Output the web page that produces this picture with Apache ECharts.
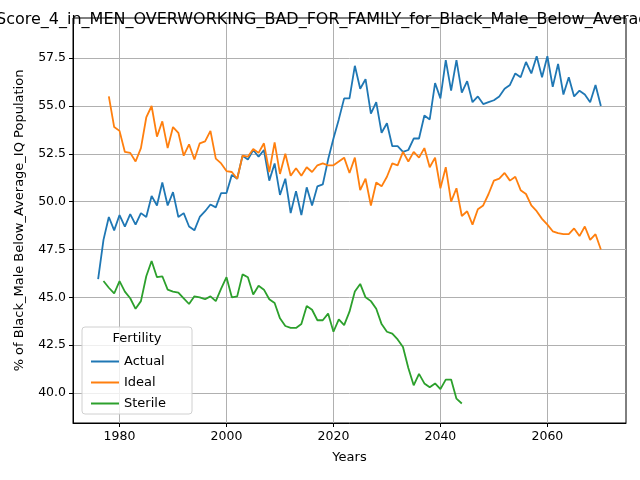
<!DOCTYPE html>
<html>
<head>
<meta charset="utf-8">
<script src="https://cdn.jsdelivr.net/npm/echarts@6/dist/echarts.min.js"></script>
<style>html,body{margin:0;padding:0;background:#fff}#c{width:640px;height:480px}</style>
</head>
<body>
<div id="c"></div>
<script>
// Values, one per year
const actualStart = 1976;
const actual = [45.95, 48.0, 49.2, 48.5, 49.3, 48.7, 49.35, 48.8, 49.4, 49.2,
  50.3, 49.8, 51.0, 49.8, 50.5, 49.2, 49.4, 48.7, 48.5, 49.2,
  49.5, 49.85, 49.7, 50.45, 50.45, 51.4, 51.2, 52.4, 52.2, 52.7,
  52.35, 52.7, 51.1, 52.0, 50.35, 51.2, 49.4, 50.55, 49.3, 50.75,
  49.8, 50.8, 50.9, 52.2, 53.3, 54.3, 55.4, 55.4, 57.1, 55.9,
  56.4, 54.6, 55.2, 53.6, 54.1, 52.9, 52.9, 52.6, 52.7, 53.3,
  53.3, 54.5, 54.3, 56.2, 55.4, 57.4, 55.8, 57.4, 55.7, 56.3,
  55.2, 55.5, 55.1, 55.2, 55.3, 55.5, 55.9, 56.1, 56.7, 56.5,
  57.3, 56.7, 57.6, 56.5, 57.6, 56.0, 57.2, 55.6, 56.5, 55.5,
  55.8, 55.6, 55.2, 56.1, 55.0];
const idealStart = 1978;
const ideal = [55.5, 53.9, 53.7, 52.6, 52.55, 52.1, 52.8, 54.4, 55.0, 53.4,
  54.2, 52.8, 53.9, 53.6, 52.4, 53.0, 52.2, 53.05, 53.15, 53.7,
  52.25, 52.0, 51.6, 51.55, 51.2, 52.4, 52.35, 52.75, 52.55, 53.05,
  51.55, 53.1, 51.45, 52.5, 51.35, 51.75, 51.35, 51.8, 51.55, 51.9,
  52.0, 51.9, 51.9, 52.1, 52.3, 51.5, 52.3, 50.6, 51.2, 49.8,
  51.0, 50.8, 51.3, 52.0, 51.9, 52.6, 52.1, 52.6, 52.3, 52.8,
  51.8, 52.3, 50.7, 51.8, 50.0, 50.7, 49.25, 49.5, 48.8, 49.6,
  49.8, 50.4, 51.1, 51.2, 51.5, 51.1, 51.3, 50.6, 50.4, 49.8,
  49.5, 49.1, 48.8, 48.45, 48.35, 48.3, 48.3, 48.6, 48.2, 48.7,
  48.0, 48.3, 47.5];
const sterileStart = 1977;
const sterile = [45.85, 45.5, 45.2, 45.85, 45.3, 44.95, 44.4, 44.8, 46.1, 46.9,
  46.05, 46.1, 45.4, 45.3, 45.25, 44.95, 44.65, 45.05, 45.0, 44.9,
  45.05, 44.8, 45.45, 46.05, 45.0, 45.05, 46.2, 46.05, 45.15, 45.6,
  45.4, 44.9, 44.7, 43.9, 43.5, 43.4, 43.4, 43.6, 44.55, 44.35,
  43.8, 43.8, 44.15, 43.2, 43.85, 43.55, 44.25, 45.3, 45.7, 45.0,
  44.8, 44.4, 43.6, 43.2, 43.1, 42.8, 42.4, 41.3, 40.4, 41.0,
  40.5, 40.3, 40.5, 40.2, 40.7, 40.7, 39.7, 39.45];
const xTicks = [1980, 2000, 2020, 2040, 2060];
const yTicks = [40.0, 42.5, 45.0, 47.5, 50.0, 52.5, 55.0, 57.5];

const pairs = (start, arr) => arr.map((v, i) => [start + i, v]);
const font = 'DejaVu Sans';
const chart = echarts.init(document.getElementById('c'), null, { renderer: 'canvas' });
const line = (name, color, start, arr) => ({
  name, type: 'line', data: pairs(start, arr), showSymbol: false,
  lineStyle: { color, width: 1.8 }, itemStyle: { color }
});

chart.setOption({
  animation: false,
  textStyle: { fontFamily: font },
  grid: { left: 73, right: 14, top: 18, bottom: 57, show: true, borderColor: '#000', borderWidth: 1 },
  xAxis: {
    type: 'value', min: 1971.3, max: 2074.7,
    name: 'Years', nameLocation: 'middle', nameGap: 28,
    nameTextStyle: { color: '#000', fontSize: 13, fontFamily: font },
    axisLine: { lineStyle: { color: '#000' } },
    axisTick: { customValues: xTicks, lineStyle: { color: '#000' }, length: 4 },
    axisLabel: { customValues: xTicks, color: '#000', fontSize: 12.5, fontFamily: font, margin: 7,
      formatter: v => String(v) },
    splitLine: { show: true, lineStyle: { color: '#b0b0b0', width: 1 } }
  },
  yAxis: {
    type: 'value', min: 38.43, max: 59.6,
    name: '% of Black_Male Below_Average_IQ Population', nameLocation: 'middle', nameGap: 47,
    nameTextStyle: { color: '#000', fontSize: 13, fontFamily: font },
    axisLine: { show: true, lineStyle: { color: '#000' } },
    axisTick: { show: true, customValues: yTicks, lineStyle: { color: '#000' }, length: 4 },
    axisLabel: { customValues: yTicks, color: '#000', fontSize: 12.5, fontFamily: font, margin: 7,
      formatter: v => v.toFixed(1) },
    splitLine: { show: true, lineStyle: { color: '#b0b0b0', width: 1 } }
  },
  legend: {
    orient: 'vertical', left: 86, top: 350, itemGap: 8, itemWidth: 28, itemHeight: 2, z: 20,
    icon: 'rect', textStyle: { fontSize: 13, color: '#000', fontFamily: font },
    data: ['Actual', 'Ideal', 'Sterile']
  },
  graphic: [
    { type: 'rect', shape: { x: 82, y: 327, width: 110, height: 87, r: 3 }, z: 5,
      style: { fill: 'rgba(255,255,255,0.8)', stroke: '#d0d0d0', lineWidth: 1 } },
    { type: 'text', x: 137, y: 332, z: 6,
      style: { text: 'Fertility', fill: '#000', font: '13px "DejaVu Sans"', textAlign: 'center' } },
    { type: 'text', x: -4, y: 12, z: 6,
      style: { text: 'Score_4_in_MEN_OVERWORKING_BAD_FOR_FAMILY_for_Black_Male_Below_Average_IQ Population',
        fill: '#000', font: '16px "DejaVu Sans"', textAlign: 'left' } }
  ],
  series: [
    line('Actual', '#1f77b4', actualStart, actual),
    line('Ideal', '#ff7f0e', idealStart, ideal),
    line('Sterile', '#2ca02c', sterileStart, sterile)
  ]
});
</script>
</body>
</html>
